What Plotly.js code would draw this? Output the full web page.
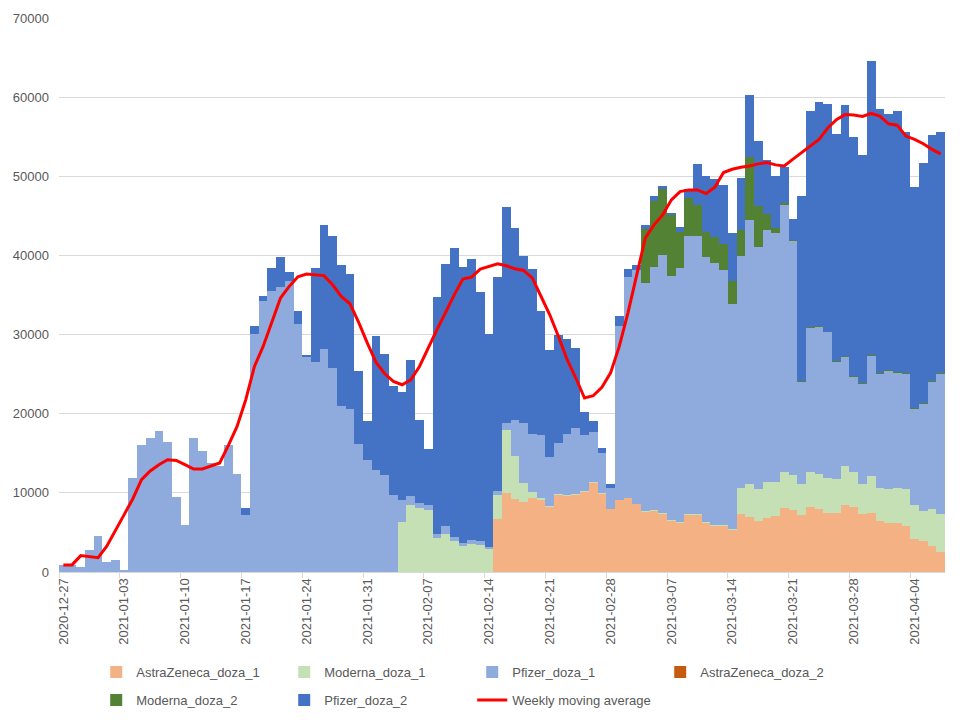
<!DOCTYPE html>
<html>
<head>
<meta charset="utf-8">
<script src="https://cdn.plot.ly/plotly-3.0.1.min.js"></script>
<style>
  body { margin: 0; background: #fff; }
  #chart { width: 960px; height: 720px; }
</style>
</head>
<body>
<div id="chart"></div>
<script>
// daily vaccination doses, 2020-12-27 .. 2021-04-07
let days = [
    "2020-12-27", "2020-12-28", "2020-12-29", "2020-12-30", "2020-12-31", "2021-01-01", "2021-01-02",
    "2021-01-03", "2021-01-04", "2021-01-05", "2021-01-06", "2021-01-07", "2021-01-08", "2021-01-09",
    "2021-01-10", "2021-01-11", "2021-01-12", "2021-01-13", "2021-01-14", "2021-01-15", "2021-01-16",
    "2021-01-17", "2021-01-18", "2021-01-19", "2021-01-20", "2021-01-21", "2021-01-22", "2021-01-23",
    "2021-01-24", "2021-01-25", "2021-01-26", "2021-01-27", "2021-01-28", "2021-01-29", "2021-01-30",
    "2021-01-31", "2021-02-01", "2021-02-02", "2021-02-03", "2021-02-04", "2021-02-05", "2021-02-06",
    "2021-02-07", "2021-02-08", "2021-02-09", "2021-02-10", "2021-02-11", "2021-02-12", "2021-02-13",
    "2021-02-14", "2021-02-15", "2021-02-16", "2021-02-17", "2021-02-18", "2021-02-19", "2021-02-20",
    "2021-02-21", "2021-02-22", "2021-02-23", "2021-02-24", "2021-02-25", "2021-02-26", "2021-02-27",
    "2021-02-28", "2021-03-01", "2021-03-02", "2021-03-03", "2021-03-04", "2021-03-05", "2021-03-06",
    "2021-03-07", "2021-03-08", "2021-03-09", "2021-03-10", "2021-03-11", "2021-03-12", "2021-03-13",
    "2021-03-14", "2021-03-15", "2021-03-16", "2021-03-17", "2021-03-18", "2021-03-19", "2021-03-20",
    "2021-03-21", "2021-03-22", "2021-03-23", "2021-03-24", "2021-03-25", "2021-03-26", "2021-03-27",
    "2021-03-28", "2021-03-29", "2021-03-30", "2021-03-31", "2021-04-01", "2021-04-02", "2021-04-03",
    "2021-04-04", "2021-04-05", "2021-04-06", "2021-04-07"
];

let astra1 = [
    0, 0, 0, 0, 0, 0, 0,  0, 0, 0, 0, 0, 0, 0,  0, 0, 0, 0, 0, 0, 0,
    0, 0, 0, 0, 0, 0, 0,  0, 0, 0, 0, 0, 0, 0,  0, 0, 0, 0, 0, 0, 0,
    0, 0, 0, 0, 0, 0, 0,
    0, 6740, 10030, 9270, 8890, 9390, 9140,
    8260, 9770, 9650, 9770, 10150, 11290, 9900,
    8000, 9140, 9390, 8630, 7610, 7740, 7350,
    6460, 6250, 7230, 7230, 6200, 5820, 5820,
    5310, 7350, 6970, 6460, 6840, 7100, 8120,
    7860, 7230, 8250, 7990, 7480, 7480, 8500,
    8250, 7350, 7480, 6460, 6200, 6200, 5820,
    4170, 3910, 3270, 2510
];

let moderna1 = [
    0, 0, 0, 0, 0, 0, 0,  0, 0, 0, 0, 0, 0, 0,  0, 0, 0, 0, 0, 0, 0,
    0, 0, 0, 0, 0, 0, 0,  0, 0, 0, 0, 0, 0, 0,
    0, 0, 0, 0, 6360, 8510, 8130,
    7880, 4340, 4850, 3960, 3330, 3590, 3460,
    2950, 3030, 7950, 5430, 2400, 760, 250,
    120, 130, 50, 30, 30, 20, 20,
    0, 0, 0, 0, 40, 120, 130,
    130, 80, 120, 120, 130, 80, 130,
    130, 3320, 4210, 4080, 4590, 4210, 4460,
    4340, 3950, 4330, 4340, 4340, 4210, 4850,
    4330, 3830, 4590, 4210, 4340, 4470, 4720,
    4330, 3830, 4720, 4840
];

let pfizer1 = [
    900, 900, 640, 2830, 4600, 1310, 1570,
    300, 11920, 16090, 16930, 17850, 16380, 9520,
    5980, 16930, 15330, 13810, 13350, 16090, 12420,
    7250, 30100, 34270, 35450, 35960, 36720, 31360,
    27200, 26570, 28210, 25800, 21010, 20630, 16210,
    14190, 12930, 12300, 9770, 2780, 1140, 630,
    630, 510, 1010, 510, 380, 500, 500,
    260, 510, 880, 4550, 7570, 7330, 7960,
    6190, 6440, 7780, 8430, 7170, 6420, 5160,
    2660, 21970, 27910, 29550, 28930, 30740, 32600,
    30840, 32110, 35120, 35120, 33530, 33120, 32230,
    28450, 29320, 33310, 30580, 31800, 31580, 33810,
    29640, 12770, 18280, 18620, 18450, 14840, 13760,
    12090, 12570, 15250, 14340, 14850, 14470, 14470,
    12090, 13480, 16010, 17700
];

let astra2 = [
    0, 0, 0, 0, 0, 0, 0,  0, 0, 0, 0, 0, 0, 0,  0, 0, 0, 0, 0, 0, 0,
    0, 0, 0, 0, 0, 0, 0,  0, 0, 0, 0, 0, 0, 0,  0, 0, 0, 0, 0, 0, 0,
    0, 0, 0, 0, 0, 0, 0,  0, 0, 0, 0, 0, 0, 0,  0, 0, 0, 0, 0, 0, 0,
    0, 0, 0, 0, 0, 0, 0,  0, 0, 0, 0, 0, 0, 0,  0, 0, 0, 0, 0, 0, 0,
    0, 0, 0, 0, 0, 0, 0,  0, 0, 0, 0, 0, 0, 0,
    0, 0, 0, 0
];

let moderna2 = [
    0, 0, 0, 0, 0, 0, 0,  0, 0, 0, 0, 0, 0, 0,  0, 0, 0, 0, 0, 0, 0,
    0, 0, 0, 0, 0, 0, 0,  0, 0, 0, 0, 0, 0, 0,  0, 0, 0, 0, 0, 0, 0,
    0, 0, 0, 0, 0, 0, 0,  0, 0, 0, 0, 0, 0, 0,  0, 0, 0, 0, 0, 0, 0,
    0, 0, 0, 0, 6780, 8290, 8330,
    7700, 4580, 4800, 3920, 3160, 3370, 3280,
    2820, 3240, 7920, 5140, 2020, 550, 210,
    130, 150, 100, 150, 100, 150, 150,
    100, 150, 100, 150, 150, 100, 100,
    150, 150, 150, 150
];

let pfizer2 = [
    0, 0, 0, 0, 0, 0, 0,  0, 0, 0, 0, 0, 0, 0,  0, 0, 0, 0, 0, 0, 0,
    850, 1010, 630, 2990, 3870, 1210, 1650,
    250, 11870, 15650, 16670, 17790, 17030, 9220,
    4930, 16920, 15270, 13760, 13550, 17170, 10490,
    7070, 29920, 33080, 36490, 34850, 35480, 31440,
    26800, 27020, 27280, 24230, 21090, 20830, 15660,
    13510, 13640, 11990, 10100, 2900, 1390, 630,
    500, 1180, 1010, 630, 520, 630, 380,
    240, 590, 1140, 5180, 7070, 7240, 7460,
    6100, 6610, 7870, 8210, 6820, 6610, 4550,
    2650, 23350, 27290, 28290, 28770, 28670, 31690,
    30230, 28850, 37130, 33290, 32360, 33010, 30490,
    27960, 30280, 31100, 30400
];

let weeklyAvg = [
    900, 900, 2070, 1950, 1800, 3250, 5350,
    7250, 9260, 11670, 12770, 13560, 14190, 14100,
    13560, 13010, 13010, 13340, 13770, 16000, 18400,
    21770, 25970, 28500, 31490, 34610, 36080, 37300,
    37640, 37510, 37450, 36290, 34810, 33890, 31530,
    28930, 26480, 25050, 24080, 23660, 24290, 25970,
    28330, 30600, 32790, 35020, 37010, 37260, 38270,
    38600, 38940, 38690, 38310, 38100, 37130, 34810,
    32500, 29760, 26820, 24510, 21980, 22270, 23350,
    25160, 28500, 32750, 37340, 42220, 43860, 45130,
    47020, 48070, 48280, 48280, 47820, 48620, 50470,
    50890, 51150, 51310, 51570, 51730, 51440, 51300,
    52170, 53000, 53800, 54650, 56100, 57150, 57800,
    57730, 57560, 57940, 57600, 56630, 56460, 55080,
    54660, 54110, 53400, 52840
];

let seriesNames = ["AstraZeneca_doza_1", "Moderna_doza_1", "Pfizer_doza_1",
                   "AstraZeneca_doza_2", "Moderna_doza_2", "Pfizer_doza_2"];
let seriesColors = ["#F4B183", "#C5E0B4", "#8FAADC", "#C55A11", "#548235", "#4472C4"];
let seriesValues = [astra1, moderna1, pfizer1, astra2, moderna2, pfizer2];

let FONT = "Liberation Sans, Arial, sans-serif";
let GREY_TEXT = "#595959";

// first four entries go in the top legend row, the rest in a second legend
let traces = seriesValues.map((vals, k) => ({
    type: 'bar',
    name: seriesNames[k],
    x: days,
    y: vals,
    legend: k < 4 ? 'legend' : 'legend2',
    marker: { color: seriesColors[k], line: { width: 0 } },
    hoverinfo: 'x+y+name'
}));

traces.push({
    type: 'scatter',
    mode: 'lines',
    name: 'Weekly moving average',
    x: days,
    y: weeklyAvg,
    legend: 'legend2',
    line: { color: '#FF0000', width: 3 }
});

let legendBase = {
    orientation: 'h',
    x: 0.042,
    xanchor: 'left',
    yref: 'container',
    yanchor: 'top',
    traceorder: 'normal',
    entrywidth: 143,
    entrywidthmode: 'pixels',
    font: { family: FONT, size: 13, color: GREY_TEXT }
};

let layout = {
    width: 960,
    height: 720,
    margin: { l: 59, r: 15, t: 18, b: 148 },
    paper_bgcolor: '#ffffff',
    plot_bgcolor: '#ffffff',
    barmode: 'stack',
    bargap: 0,
    font: { family: FONT, size: 13, color: GREY_TEXT },
    xaxis: {
        type: 'category',
        tickmode: 'linear',
        tick0: 0,
        dtick: 7,
        tickson: 'boundaries',
        ticks: 'outside',
        ticklen: 5,
        tickcolor: '#D9D9D9',
        tickangle: -90,
        tickfont: { family: FONT, size: 13, color: GREY_TEXT },
        showline: true,
        linecolor: '#D9D9D9',
        showgrid: false,
        zeroline: false
    },
    yaxis: {
        range: [0, 70000],
        dtick: 10000,
        tickformat: 'd',
        showgrid: true,
        gridcolor: '#D9D9D9',
        zeroline: false,
        showline: false,
        ticks: '',
        ticklabelstandoff: 9,
        tickfont: { family: FONT, size: 13, color: GREY_TEXT }
    },
    showlegend: true,
    legend: Object.assign({}, legendBase, { y: 0.0875 }),
    legend2: Object.assign({}, legendBase, { y: 0.0485 })
};

Plotly.newPlot('chart', traces, layout, { displayModeBar: false, staticPlot: true });
</script>
</body>
</html>
